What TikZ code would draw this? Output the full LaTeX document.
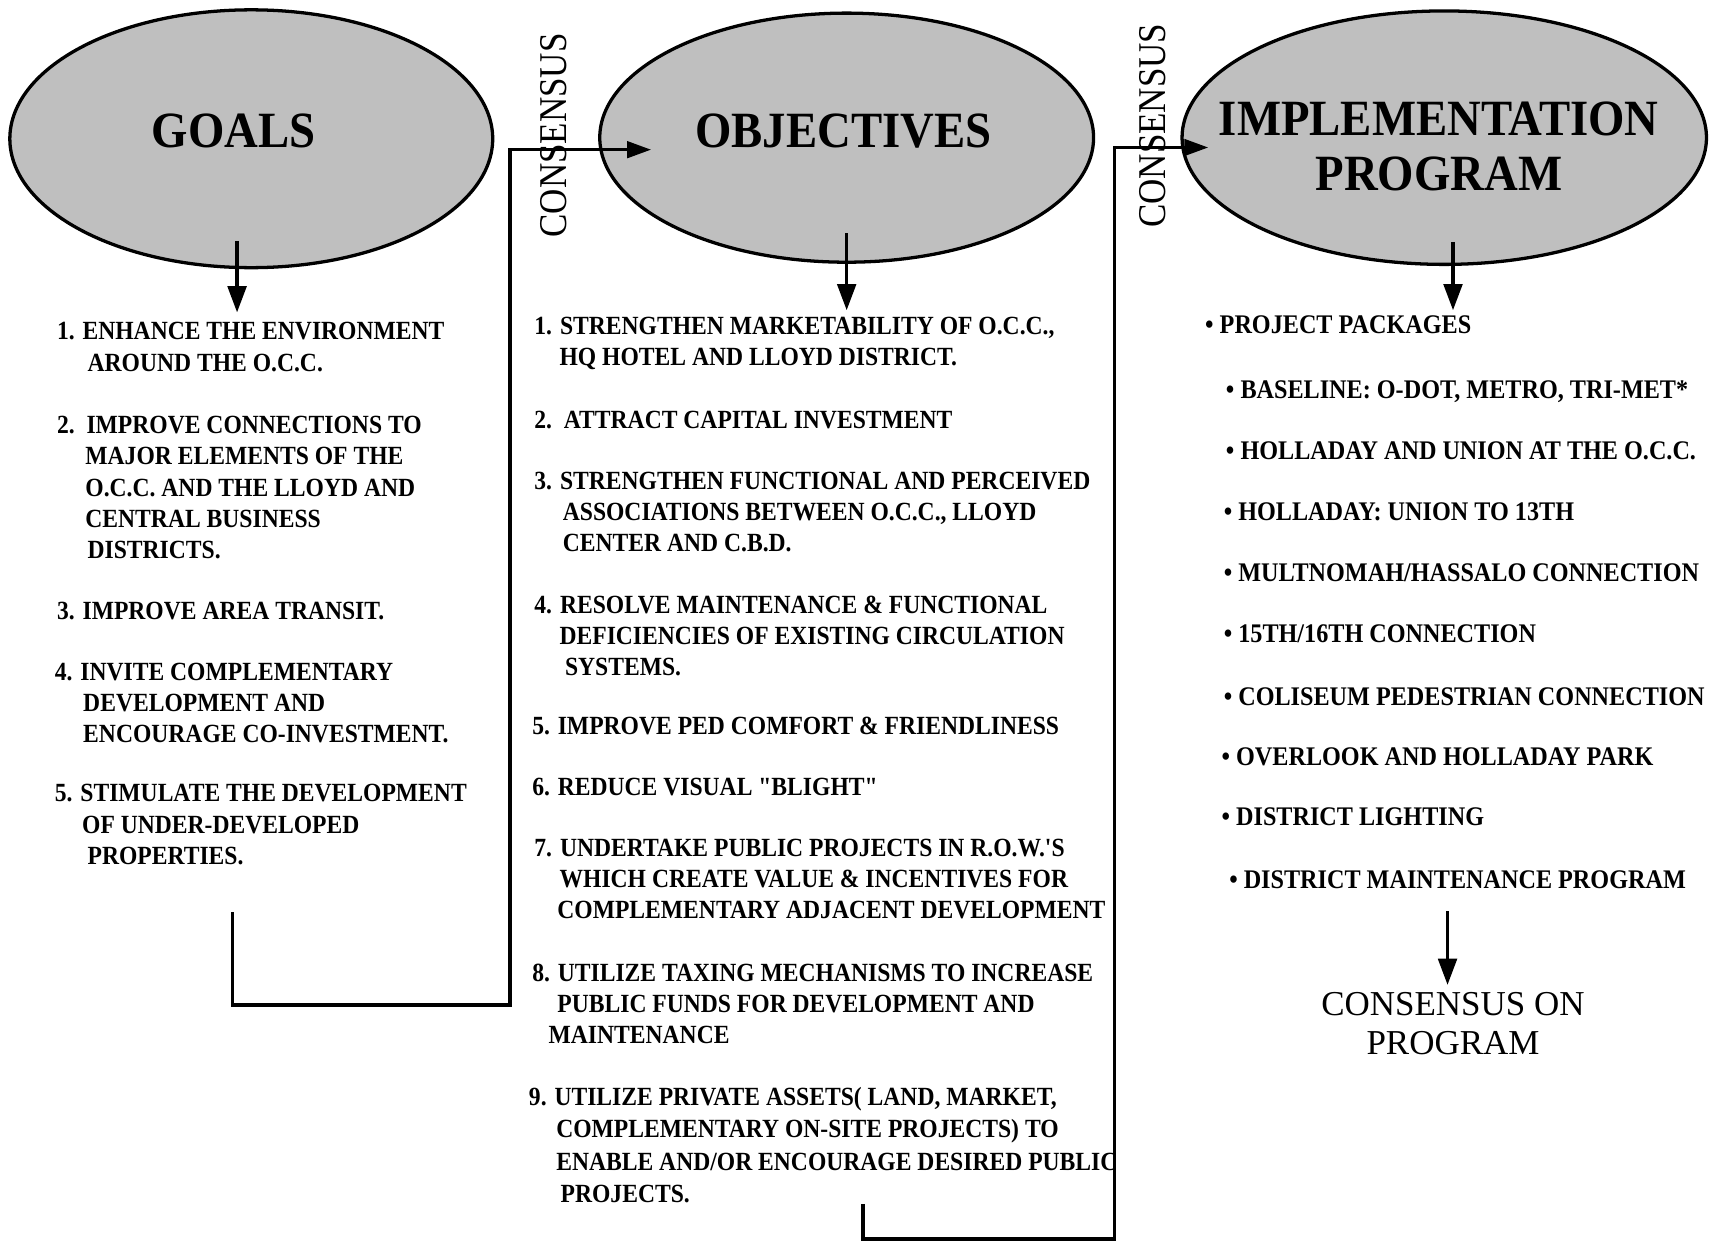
\documentclass[tikz,border=0pt]{standalone}
\usepackage{fontspec}
\setmainfont{Liberation Serif}
\newfontfamily\listfont[FakeStretch=0.9]{Liberation Serif}
\newfontfamily\titlefont[FakeStretch=0.92]{Liberation Serif}
\newfontfamily\consfont[FakeStretch=0.89]{Liberation Serif}
\usetikzlibrary{shapes.geometric,arrows.meta}
\tikzset{
  oval/.style={ellipse, draw=black, line width=3pt, fill=black!25, inner sep=0pt},
  ovaltext/.style={inner sep=0pt, align=center, font=\titlefont\bfseries\fontsize{46.5}{50}\selectfont},
  listtext/.style={anchor=north west, inner sep=0pt, align=left,
    font=\listfont\bfseries\fontsize{24}{28.5}\selectfont},
  constext/.style={rotate=90, inner sep=0pt, font=\consfont\fontsize{36}{40}\selectfont},
  arr/.style={line width=3.2pt, -{Triangle[length=24pt,width=17pt]}},
  carr/.style={line width=3.2pt, -{Triangle[length=22pt,width=15pt]}},
  conn/.style={line width=3.2pt, line join=miter},
}
\begin{document}
\begin{tikzpicture}[x=1pt,y=-1pt]
\useasboundingbox[fill=white] (0,0) rectangle (1568,1136);

% ellipses
\node[oval, minimum width=442pt, minimum height=236pt] (goals) at (230,127) {};
\node[oval, minimum width=452pt, minimum height=228pt] (obj) at (775,126) {};
\node[oval, minimum width=480pt, minimum height=232pt] (impl) at (1322,126) {};
\node[ovaltext] (goalst) at (214,120) {GOALS};
\node[ovaltext] (objt) at (772,120) {OBJECTIVES};
\node[ovaltext] (implt) at (1317,134) {IMPLEMENTATION\\PROGRAM};

% consensus labels
\node[constext] (cons1) at (507,124) {CONSENSUS};
\node[constext] (cons2) at (1055,115) {CONSENSUS};

% goals list
\node[listtext] (g1) at (52,295) {1. ENHANCE THE ENVIRONMENT\\\hspace*{28pt}AROUND THE O.C.C.};
\node[listtext] (g2) at (52,381) {2.\ \ IMPROVE CONNECTIONS TO\\\hspace*{26pt}MAJOR ELEMENTS OF THE\\\hspace*{26pt}O.C.C. AND THE LLOYD AND\\\hspace*{26pt}CENTRAL BUSINESS\\\hspace*{28pt}DISTRICTS.};
\node[listtext] (g3) at (52,551) {3. IMPROVE AREA TRANSIT.};
\node[listtext] (g4) at (50,607) {4. INVITE COMPLEMENTARY\\\hspace*{26pt}DEVELOPMENT AND\\\hspace*{26pt}ENCOURAGE CO-INVESTMENT.};
\node[listtext] (g5) at (50,718) {5. STIMULATE THE DEVELOPMENT\\\hspace*{25pt}OF UNDER-DEVELOPED\\\hspace*{30pt}PROPERTIES.};

% objectives list
\node[listtext] (o1) at (489,290) {1. STRENGTHEN MARKETABILITY OF O.C.C.,\\\hspace*{23pt}HQ HOTEL AND LLOYD DISTRICT.};
\node[listtext] (o2) at (489,376) {2.\ \ ATTRACT CAPITAL INVESTMENT};
\node[listtext] (o3) at (489,432) {3. STRENGTHEN FUNCTIONAL AND PERCEIVED\\\hspace*{26pt}ASSOCIATIONS BETWEEN O.C.C., LLOYD\\\hspace*{26pt}CENTER AND C.B.D.};
\node[listtext] (o4) at (489,545) {4. RESOLVE MAINTENANCE \& FUNCTIONAL\\\hspace*{23pt}DEFICIENCIES OF EXISTING CIRCULATION\\\hspace*{28pt}SYSTEMS.};
\node[listtext] (o5) at (487,656) {5. IMPROVE PED COMFORT \& FRIENDLINESS};
\node[listtext] (o6) at (487,712) {6. REDUCE VISUAL "BLIGHT"};
\node[listtext] (o7) at (489,768) {7. UNDERTAKE PUBLIC PROJECTS IN R.O.W.'S\\\hspace*{23pt}WHICH CREATE VALUE \& INCENTIVES FOR\\\hspace*{21pt}COMPLEMENTARY ADJACENT DEVELOPMENT};
\node[listtext] (o8) at (487,882) {8. UTILIZE TAXING MECHANISMS TO INCREASE\\\hspace*{23pt}PUBLIC FUNDS FOR DEVELOPMENT AND\\\hspace*{15pt}MAINTENANCE};
\node[listtext, font=\listfont\bfseries\fontsize{24}{29.7}\selectfont] (o9) at (484,995) {9. UTILIZE PRIVATE ASSETS( LAND, MARKET,\\\hspace*{25pt}COMPLEMENTARY ON-SITE PROJECTS) TO\\\hspace*{25pt}ENABLE AND/OR ENCOURAGE DESIRED PUBLIC\\\hspace*{29pt}PROJECTS.};

% implementation list
\tikzset{plist/.style={listtext, font=\listfont\bfseries\fontsize{24.6}{28.5}\selectfont}}
\node[plist] (p0) at (1103,289) {•\ PROJECT PACKAGES};
\node[plist] (p1) at (1122,348) {•\ BASELINE: O-DOT, METRO, TRI-MET*};
\node[plist] (p2) at (1122,404) {•\ HOLLADAY AND UNION AT THE O.C.C.};
\node[plist] (p3) at (1120,460) {•\ HOLLADAY: UNION TO 13TH};
\node[plist] (p4) at (1120,516) {•\ MULTNOMAH/HASSALO CONNECTION};
\node[plist] (p5) at (1120,572) {•\ 15TH/16TH CONNECTION};
\node[plist] (p6) at (1120,629) {•\ COLISEUM PEDESTRIAN CONNECTION};
\node[plist] (p7) at (1118,684) {•\ OVERLOOK AND HOLLADAY PARK};
\node[plist] (p8) at (1118,739) {•\ DISTRICT LIGHTING};
\node[plist] (p9) at (1125,797) {•\ DISTRICT MAINTENANCE PROGRAM};

\node[inner sep=0pt, align=center, font=\fontsize{32}{35}\selectfont] (cprog) at (1330,937) {CONSENSUS ON\\PROGRAM};

% down arrows
\coordinate (gtip) at (217,286);
\coordinate (otip) at (775,284);
\coordinate (itip) at (1330,284);
\draw[arr] ([yshift=26pt]goals.south -| gtip) -- (gtip);
\draw[arr] ([yshift=28pt]obj.south -| otip) -- (otip);
\draw[arr] ([yshift=22pt]impl.south -| itip) -- (itip);
\coordinate (ptop) at (1325,834);
\draw[arr] (ptop) -- ([yshift=7pt]ptop |- cprog.north);

% consensus connectors
\coordinate (c1a) at (213,835);
\coordinate (c1b) at (467,920);
\coordinate (c1t) at (596,137);
\draw[conn] (c1a) |- (c1b) |- (c1t -| cons1.west);
\draw[carr] (cons1.east |- c1t) -- (c1t);

\coordinate (c2a) at (790,1102);
\coordinate (c2b) at (1020,1134);
\coordinate (c2t) at (1106,135);
\draw[conn] (c2a) |- (c2b) |- (c2t -| cons2.west);
\draw[carr] (c2t -| cons2.west) -- (c2t);
\end{tikzpicture}
\end{document}
